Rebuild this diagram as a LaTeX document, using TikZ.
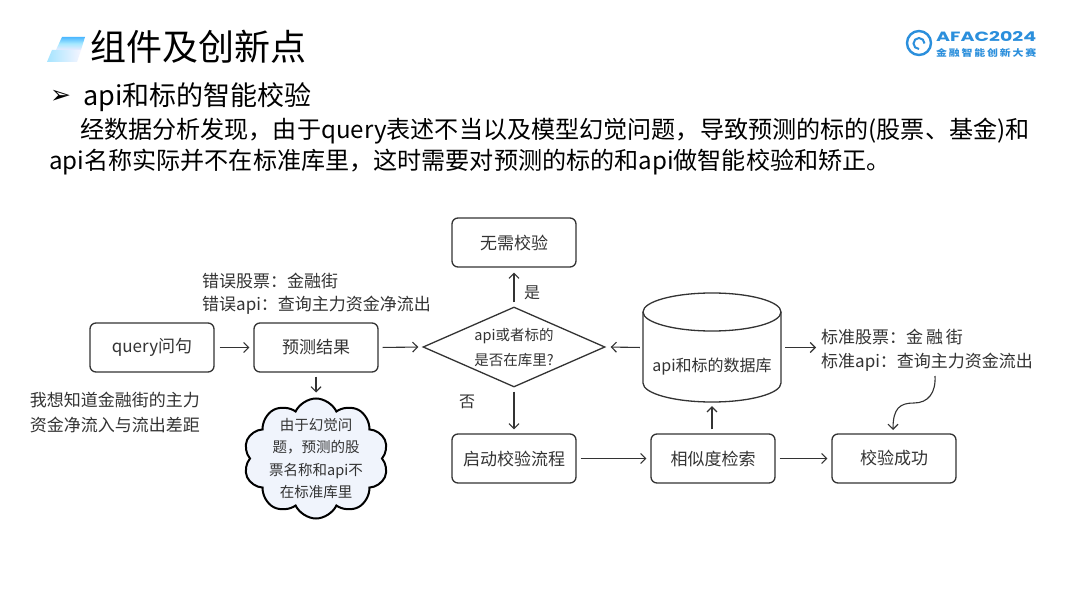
\documentclass[tikz,border=0pt]{standalone}
\usepackage{fontspec}
\usepackage{graphicx}
\setmainfont{Noto Sans CJK SC}
\newfontfamily\symfont{DejaVu Sans}
\newfontfamily\logofont{Poppins}
\usetikzlibrary{arrows.meta,shapes.geometric,shapes.symbols,calc}
\definecolor{ink}{HTML}{333333}
\definecolor{logoblue}{HTML}{2B8FDC}
\definecolor{cloudfill}{HTML}{F0F4FC}
\tikzset{
  x=1pt,y=-1pt,
  flowbox/.style={draw=ink,line width=1.3pt,rounded corners=6pt,minimum width=124pt,minimum height=49pt,inner sep=0pt,text=ink,font=\fontsize{17}{22}\selectfont},
  decision/.style={diamond,draw=ink,line width=1.3pt,minimum width=182pt,minimum height=80pt,aspect=2.27,inner sep=0pt,text=ink,align=center,font=\fontsize{14.5}{25}\selectfont},
  flowarrow/.style={draw=ink,line width=1.1pt,-{Straight Barb[length=5pt,width=10pt]}},
  lab/.style={anchor=west,inner sep=0pt,text=ink,font=\fontsize{17}{20}\selectfont},
  bodytext/.style={anchor=west,inner sep=0pt,text=black,font=\fontsize{24.1}{30}\selectfont},
}
\begin{document}
\begin{tikzpicture}
\useasboundingbox (0,0) rectangle (1080,607);
\fill[white] (0,0) rectangle (1080,607);
% title mark
\shade[top color=blue!40!cyan!70!white,bottom color=blue!8!white,middle color=blue!25!cyan!35!white,draw=none] (62,37) -- (85,37) -- (81,50) -- (56,50) -- cycle;
\shade[left color=blue!30!cyan!35!white,right color=blue!4!white,draw=none] (52,50) -- (81,50) -- (77,62) -- (47,62) -- cycle;
\node[anchor=west,inner sep=0pt,text=black,font=\fontsize{36}{40}\selectfont] (title) at (90,47) {组件及创新点};
% logo
\draw[logoblue,line width=2.4pt] (919,43) circle[radius=12];
\draw[logoblue,line width=2pt] (919,49) arc[start angle=90,end angle=360,radius=5.5];
\node[anchor=west,inner sep=0pt,text=logoblue,font=\logofont\bfseries] (logotext) at (936,37) {\resizebox{100pt}{10pt}{AFAC2024}};
\node[anchor=west,inner sep=0pt,text=logoblue,font=\bfseries] (logosub) at (936,52.5) {\resizebox{100pt}{8pt}{金\,融\,智\,能\,创\,新\,大\,赛}};
% heading and body
\node[anchor=west,inner sep=0pt,text=black,font=\symfont\fontsize{25}{28}\selectfont] (bullet) at (50,97) {➢};
\node[anchor=west,inner sep=0pt,text=black,font=\fontsize{27}{30}\selectfont] (head) at (83,97) {api和标的智能校验};
\node[bodytext] (line1) at (80,131) {经数据分析发现，由于query表述不当以及模型幻觉问题，导致预测的标的(股票、基金)和};
\node[bodytext] (line2) at (49,162) {api名称实际并不在标准库里，这时需要对预测的标的和api做智能校验和矫正。};
% boxes
\node[flowbox] (query) at (152,347.5) {query问句};
\node[flowbox] (pred) at (316,347.5) {预测结果};
\node[flowbox] (noneed) at (514,242.5) {无需校验};
\node[flowbox] (start) at (514,458.5) {启动校验流程};
\node[flowbox] (simil) at (713,458.5) {相似度检索};
\node[flowbox] (succ) at (894,458.5) {校验成功};
\node[decision] (dec) at (514,347) {api或者标的\\是否在库里?};
% database
\draw[ink,line width=1.3pt,fill=white] (643,312) -- (643,383)
  .. controls (643,393.5) and (674,402) .. (712,402)
  .. controls (750,402) and (781,393.5) .. (781,383) -- (781,312);
\draw[ink,line width=1.3pt] (643,312) .. controls (643,301.5) and (674,293) .. (712,293)
  .. controls (750,293) and (781,301.5) .. (781,312)
  .. controls (781,322.5) and (750,331) .. (712,331)
  .. controls (674,331) and (643,322.5) .. (643,312) -- cycle;
\node[minimum width=138pt,minimum height=109pt,inner sep=0pt] (dbbody) at (712,347.5) {};
\node[inner sep=0pt,text=ink,font=\fontsize{16}{20}\selectfont] (db) at (712,367) {api和标的数据库};
% cloud
\node[cloud,cloud puffs=10,cloud puff arc=130,aspect=1.2,draw=black,line width=2pt,fill=cloudfill,minimum width=145pt,minimum height=120pt,inner sep=0pt] (cloudnode) at (316,458.5) {};
\node[inner sep=0pt,text=ink,align=center,font=\fontsize{14.5}{22.5}\selectfont] (cloudtext) at (316,458.5) {由于幻觉问\\题，预测的股\\票名称和api不\\在标准库里};
% labels
\node[lab] (err1) at (202,281) {错误股票：金融街};
\node[lab] (err2) at (202,305) {错误api：查询主力资金净流出};
\node[inner sep=0pt,text=ink,align=center,font=\fontsize{17}{25}\selectfont] (ask) at (115,412) {我想知道金融街的主力\\资金净流入与流出差距};
\node[lab] (std1) at (821,337) {标准股票：金\,融\,街};
\node[lab] (std2) at (821,362) {标准api：查询主力资金流出};
\node[inner sep=0pt,text=ink,font=\fontsize{16}{20}\selectfont] (yes) at (532,293) {是};
\node[inner sep=0pt,text=ink,font=\fontsize{16}{20}\selectfont] (no) at (467,402) {否};
\coordinate (curvestart) at (935,376);
% connectors
\draw[flowarrow,shorten <=5pt,shorten >=4pt] (query.east) -- (pred.west);
\draw[flowarrow,shorten <=4pt,shorten >=4pt] (pred.east) -- (dec.west);
\draw[flowarrow,shorten <=3pt,shorten >=5pt] (dbbody.west) -- (dec.east);
\draw[flowarrow,shorten <=4pt,shorten >=5pt] (dec.north) -- (noneed.south);
\draw[flowarrow,shorten <=4pt,shorten >=4pt] (dec.south) -- (start.north);
\draw[flowarrow,shorten <=4pt,shorten >=5pt] (pred.south) -- (cloudnode.north);
\draw[flowarrow,shorten <=4pt,shorten >=4pt] (start.east) -- (simil.west);
\draw[flowarrow,shorten <=4pt,shorten >=4pt] (simil.east) -- (succ.west);
\draw[flowarrow,shorten <=4pt,shorten >=4pt] (simil.north -| dbbody.south) -- (dbbody.south);
\draw[flowarrow,shorten <=4pt,shorten >=5pt] (dbbody.east) -- (std1.west |- dbbody.east);
\draw[flowarrow] (curvestart) .. controls (936,393) and (928,403) .. (914,403)
  .. controls (900,403) and (893,408) .. (893,430);
\end{tikzpicture}
\end{document}
